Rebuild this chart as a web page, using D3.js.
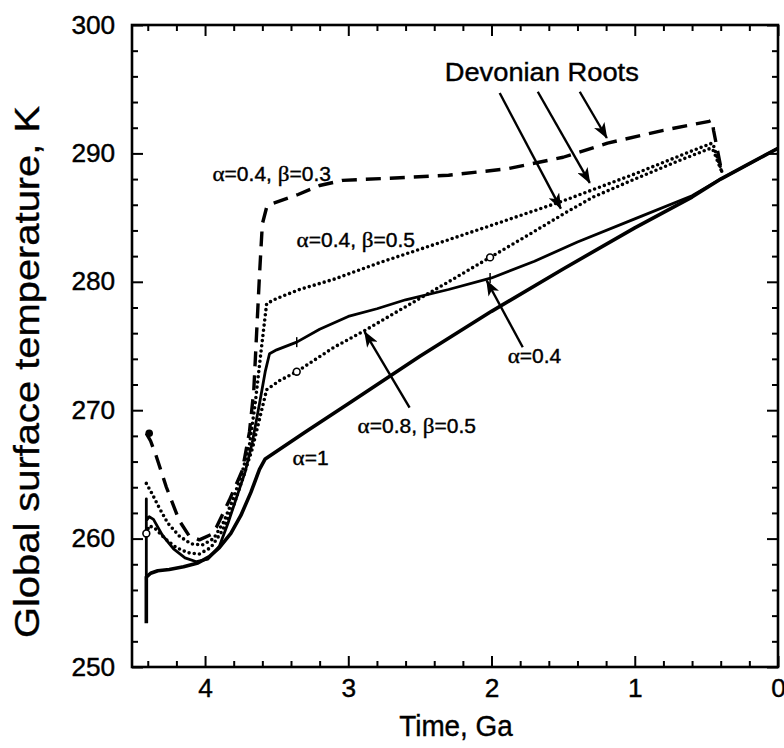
<!DOCTYPE html>
<html>
<head>
<meta charset="utf-8">
<script src="https://cdn.jsdelivr.net/npm/d3@7"></script>
<style>
  body { margin: 0; background: #fff; }
  text { font-family: "Liberation Sans", Arial, Helvetica, sans-serif; fill: #000; stroke: #000; stroke-width: 0.4px; }
  .greek { font-family: "Liberation Serif", "Times New Roman", serif; }
</style>
</head>
<body>
<script>
// données : [temps en Ga, température en K]
const alpha1 = [[4.41,253.4],[4.41,257.0],[4.38,257.3],[4.33,257.5],[4.25,257.6],[4.15,257.8],[4.05,258.1],
  [3.97,258.6],[3.9,259.3],[3.82,260.4],[3.75,261.8],[3.68,263.6],[3.62,265.4],[3.58,266.2],[3.3,268.3],
  [3.0,270.5],[2.5,274.2],[2.0,277.7],[1.5,281.0],[1.0,284.2],[0.6,286.6],[0.4,288.0],[0.2,289.2],[0,290.4]];

const alpha04 = [[4.41,256.8],[4.41,263.1],[4.41,261.4],[4.39,261.7],[4.36,261.5],[4.3,260.3],[4.22,259.2],
  [4.14,258.5],[4.06,258.2],[3.98,258.4],[3.9,259.4],[3.84,261.2],[3.78,263.2],[3.72,265.2],[3.67,267.5],
  [3.62,270.5],[3.58,273.0],[3.55,274.4],[3.5,274.7],[3.36,275.3],[3.2,276.3],[3.0,277.3],[2.8,277.9],
  [2.6,278.6],[2.3,279.4],[2.0,280.3],[1.7,281.6],[1.4,283.1],[1.0,284.9],[0.6,286.7],[0.4,288.0],
  [0.2,289.2],[0,290.4]];

const a04b03 = [[4.41,268.2],[4.38,267.6],[4.34,266.4],[4.27,264.0],[4.18,261.4],[4.11,260.2],[4.04,259.9],
  [3.96,260.3],[3.92,260.9],[3.83,263.0],[3.74,265.3],[3.69,268.3],[3.66,271.5],[3.64,276],[3.62,280.5],
  [3.6,284.5],[3.57,285.8],[3.53,286.1],[3.35,286.8],[3.2,287.5],[3.04,287.9],[2.64,288.1],[2.3,288.3],
  [1.89,288.8],[1.5,289.7],[1.19,290.8],[0.8,291.8],[0.48,292.5],[0.46,292.6],[0.45,291.8],[0.39,288.4]];

const a04b05 = [[4.41,264.3],[4.37,263.5],[4.32,262.4],[4.26,261.2],[4.18,260.2],[4.1,259.6],[4.02,259.5],
  [3.94,260.0],[3.87,261.3],[3.8,263.2],[3.74,265.2],[3.69,267.3],[3.65,270.5],[3.61,274.5],[3.57,278.3],
  [3.5,278.7],[3.34,279.4],[3.1,280.2],[2.78,281.5],[2.4,282.9],[2.0,284.4],[1.5,286.3],[1.0,288.4],
  [0.6,290.2],[0.46,290.8],[0.45,290.6],[0.39,288.5]];

const a08b05 = [[4.41,260.4],[4.39,261.0],[4.35,260.8],[4.28,260.0],[4.2,259.3],[4.12,258.9],[4.04,258.8],
  [3.96,259.3],[3.88,260.6],[3.8,262.6],[3.73,264.9],[3.67,267.0],[3.62,269.3],[3.57,271.6],[3.48,272.3],
  [3.36,273.0],[3.1,274.9],[2.87,276.3],[2.64,277.8],[2.3,280.0],[2.01,281.9],[1.75,283.6],[1.48,285.4],
  [1.29,286.6],[1.0,288.0],[0.7,289.4],[0.47,290.4],[0.45,290.2],[0.39,288.5]];

// petits repères sur les courbes
const circleMarks = [[4.41,260.4],[3.36,273.0],[2.01,281.9]];
const tickMarks = [[3.36,275.3],[2.01,280.3]];
const dotMarks = [[4.39,268.2]];

const xTicks = [4, 3, 2, 1, 0];
const yTicks = [250, 260, 270, 280, 290, 300];

// annotations : texte, position [t, T]
const labels = [
  {text: ["α", "=0.4, ", "β", "=0.3"], at: [3.948, 287.85]},
  {text: ["α", "=0.4, ", "β", "=0.5"], at: [3.361, 282.7]},
  {text: ["α", "=0.4"], at: [1.887, 273.7]},
  {text: ["α", "=0.8, ", "β", "=0.5"], at: [2.935, 268.2]},
  {text: ["α", "=1"], at: [3.389, 265.7]}
];
const arrows = [
  [[1.943,294.7],[1.516,285.7]],
  [[1.677,294.8],[1.314,287.7]],
  [[1.384,294.8],[1.195,291.2]],
  [[1.782,274.9],[2.034,280.1]],
  [[2.572,270.2],[2.886,276.1]]
];

const width = 784, height = 748;
const SX = 1.05;

const svg = d3.select("body").append("svg")
  .attr("width", width)
  .attr("height", height);

const x = d3.scaleLinear().domain([4.51, 0]).range([132, 778]);
const y = d3.scaleLinear().domain([250, 300]).range([667, 25]);

const minorX = d3.range(0, 4.5, 0.2).map(d => +d.toFixed(1)).filter(d => !xTicks.includes(d));
const minorY = d3.range(250, 300, 2).filter(d => !yTicks.includes(d));

function axes(axis, scale, major, minor, tr, labelled) {
  const g = svg.append("g").attr("transform", tr);
  g.append("g").call(axis(scale).tickValues(minor).tickSize(-6).tickFormat(""));
  const m = g.append("g").call(axis(scale).tickValues(major).tickSize(-11)
    .tickPadding(axis === d3.axisLeft ? 16 : 12)
    .tickFormat(labelled ? d3.format("d") : ""));
  g.selectAll(".domain").remove();
  g.selectAll("line").attr("stroke", "#000").attr("stroke-width", 2);
  m.selectAll("text")
    .attr("font-size", 25)
    .attr("font-family", "Liberation Sans, Arial, sans-serif")
    .attr("transform", `scale(${SX},1)`);
  return g;
}
axes(d3.axisLeft, y, yTicks, minorY, "translate(132,0)", true);
axes(d3.axisRight, y, yTicks, minorY, "translate(778,0)", false);
axes(d3.axisTop, x, xTicks, minorX, "translate(0,25)", false);
axes(d3.axisBottom, x, xTicks, minorX, "translate(0,667)", true);

// cadre
svg.append("rect")
  .attr("x", 132).attr("y", 25)
  .attr("width", 778 - 132).attr("height", 667 - 25)
  .attr("fill", "none").attr("stroke", "#000").attr("stroke-width", 2.6);

// titres des axes
svg.append("text")
  .attr("transform", "translate(456,736) scale(0.93,1)")
  .attr("text-anchor", "middle")
  .attr("font-size", 30)
  .text("Time, Ga");

svg.append("text")
  .attr("transform", "translate(39,372) rotate(-90) scale(1.05,0.92)")
  .attr("text-anchor", "middle")
  .attr("font-size", 38)
  .text("Global surface temperature, K");

// courbes
const line = d3.line().x(d => x(d[0])).y(d => y(d[1]));
const series = [
  {data: alpha1, w: 3.6, dash: null},
  {data: alpha04, w: 2.8, dash: null},
  {data: a04b03, w: 3.4, dash: "15,9"},
  {data: a04b05, w: 3.6, dash: "0,5.2"},
  {data: a08b05, w: 3.6, dash: "0,5.2"}
];
svg.append("g").selectAll("path")
  .data(series)
  .enter()
  .append("path")
    .attr("d", d => line(d.data))
    .attr("fill", "none")
    .attr("stroke", "#000")
    .attr("stroke-width", d => d.w)
    .attr("stroke-linecap", d => d.dash === "0,5.2" ? "round" : "butt")
    .attr("stroke-linejoin", "round")
    .attr("stroke-dasharray", d => d.dash);

svg.append("g").selectAll("circle.o")
  .data(circleMarks)
  .enter()
  .append("circle")
    .attr("cx", d => x(d[0]))
    .attr("cy", d => y(d[1]))
    .attr("r", 3.4)
    .attr("fill", "#fff")
    .attr("stroke", "#000")
    .attr("stroke-width", 1.6);

svg.append("g").selectAll("line")
  .data(tickMarks)
  .enter()
  .append("line")
    .attr("x1", d => x(d[0])).attr("x2", d => x(d[0]))
    .attr("y1", d => y(d[1]) - 5).attr("y2", d => y(d[1]) + 5)
    .attr("stroke", "#000").attr("stroke-width", 1.5);

svg.append("g").selectAll("circle")
  .data(dotMarks)
  .enter()
  .append("circle")
    .attr("cx", d => x(d[0]))
    .attr("cy", d => y(d[1]))
    .attr("r", 3.8)
    .attr("fill", "#000");

// flèches
svg.append("defs").append("marker")
  .attr("id", "head")
  .attr("viewBox", "0 -6 16 12")
  .attr("refX", 15).attr("refY", 0)
  .attr("markerWidth", 16).attr("markerHeight", 12)
  .attr("markerUnits", "userSpaceOnUse")
  .attr("orient", "auto")
  .append("path")
    .attr("d", "M0,-6L16,0L0,6L4,0Z")
    .attr("fill", "#000");

svg.append("g").selectAll("line")
  .data(arrows)
  .enter()
  .append("line")
    .attr("x1", d => x(d[0][0])).attr("y1", d => y(d[0][1]))
    .attr("x2", d => x(d[1][0])).attr("y2", d => y(d[1][1]))
    .attr("stroke", "#000").attr("stroke-width", 2.4)
    .attr("marker-end", "url(#head)");

svg.append("text")
  .attr("transform", `translate(${x(2.327)},${y(295.6)}) scale(${SX},1)`)
  .attr("font-size", 26)
  .text("Devonian Roots");

labels.forEach(l => {
  const t = svg.append("text")
    .attr("transform", `translate(${x(l.at[0])},${y(l.at[1])}) scale(${SX},1)`)
    .attr("font-size", 20);
  l.text.forEach(s => {
    t.append("tspan")
      .attr("class", (s === "α" || s === "β") ? "greek" : null)
      .attr("font-size", (s === "α" || s === "β") ? 22 : 20)
      .text(s);
  });
});
</script>
</body>
</html>
